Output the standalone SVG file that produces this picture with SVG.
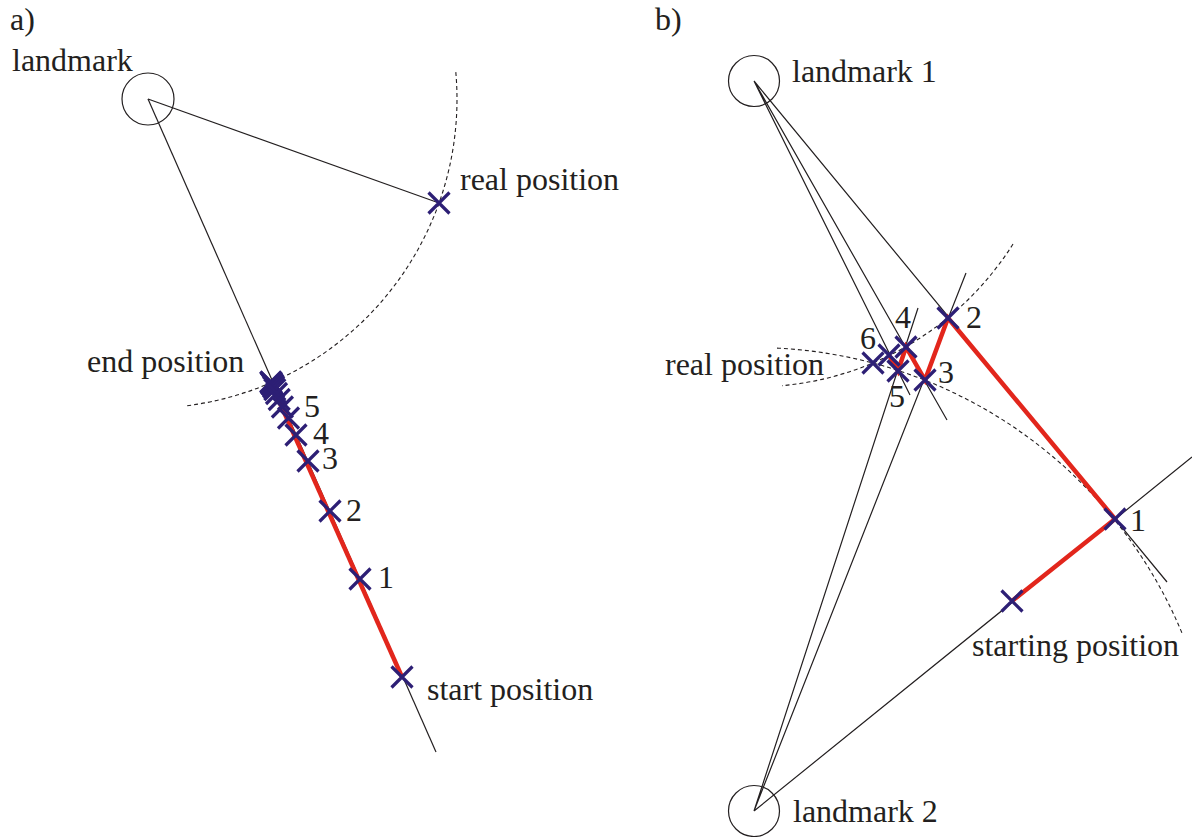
<svg xmlns="http://www.w3.org/2000/svg" width="1192" height="837" viewBox="0 0 1192 837">
<style>
text{font-family:"Liberation Serif","Times New Roman",serif;font-size:32px;fill:#231f20}
.thin{stroke:#231f20;stroke-width:1.2;fill:none}
.dash{stroke:#231f20;stroke-width:1.1;fill:none;stroke-dasharray:4 3}
.red{stroke:#e2261c;stroke-width:4.5;fill:none;stroke-linejoin:miter}
.lm{stroke:#231f20;stroke-width:1.2;fill:none}
</style>
<defs>
<g id="x"><path d="M-10.5,-10.5L10.5,10.5M-10.5,10.5L10.5,-10.5" stroke="#2d1f75" stroke-width="3.2" fill="none"/></g>
</defs>
<rect width="1192" height="837" fill="#fff"/>
<g id="panel-a">
<text x="10" y="30">a)</text>
<g id="a-landmark"><circle class="lm" cx="148" cy="99" r="26"/><text x="12" y="71">landmark</text></g>
<g id="a-connectors">
<path class="thin" d="M148,99L439,203"/>
<path class="thin" d="M148,99L436,752"/>
<path class="dash" d="M455.8,72.1A309,309 0 0 1 184.8,406"/>
<path class="red" d="M402,677L276,394"/>
</g>
<g id="a-real"><use href="#x" x="439" y="203"/><text x="460" y="190">real position</text></g>
<g id="a-start"><use href="#x" x="402" y="677"/><text x="427" y="700">start position</text></g>
<g id="a-end"><text x="87" y="372">end position</text>
<use href="#x" x="270.8" y="382"/><use href="#x" x="271" y="382.3"/><use href="#x" x="271.3" y="383"/><use href="#x" x="271.8" y="383.8"/><use href="#x" x="272.7" y="385"/><use href="#x" x="273.6" y="387"/><use href="#x" x="274.8" y="389.7"/><use href="#x" x="276.5" y="393.5"/><use href="#x" x="279.2" y="399.5"/><use href="#x" x="282.4" y="407"/>
</g>
<g id="a-iter">
<use href="#x" x="360" y="579"/><text x="378" y="588">1</text>
<use href="#x" x="330" y="511"/><text x="346" y="521">2</text>
<use href="#x" x="308" y="461"/><text x="322" y="469">3</text>
<use href="#x" x="296" y="435"/><text x="313" y="444">4</text>
<use href="#x" x="288.5" y="418"/><text x="304" y="417">5</text>
</g>
</g>
<g id="panel-b">
<text x="655" y="30">b)</text>
<g id="b-landmark1"><circle class="lm" cx="754" cy="81" r="25.5"/><text x="792" y="82">landmark 1</text></g>
<g id="b-landmark2"><circle class="lm" cx="754" cy="811" r="25.5"/><text x="793" y="822">landmark 2</text></g>
<g id="b-connectors">
<path class="thin" d="M754,81L1167,582M754,81L910,395M754,81L947,420"/>
<path class="thin" d="M754,811L966,273M754,811L918,308M754,811L1192,457"/>
<path class="dash" d="M1013,244A306,306 0 0 1 782,385.7"/>
<path class="dash" d="M777,348.1A463.5,463.5 0 0 1 1182,633.1"/>
<path class="red" d="M1012,601L1115,519L948,318L925,380L906,347L898,371L889,355"/>
</g>
<g id="b-start"><use href="#x" x="1012" y="601"/><text x="972" y="656">starting position</text></g>
<g id="b-real"><use href="#x" x="873" y="363"/><text x="665" y="375">real position</text></g>
<g id="b-iter">
<use href="#x" x="1115" y="519"/><text x="1130" y="531">1</text>
<use href="#x" x="948" y="318"/><text x="966" y="328">2</text>
<use href="#x" x="925" y="380"/><text x="938" y="383">3</text>
<use href="#x" x="906" y="347"/><text x="895" y="328">4</text>
<use href="#x" x="898" y="371"/><text x="889" y="407">5</text>
<use href="#x" x="889" y="355"/><text x="860" y="349">6</text>
</g>
</g>
</svg>
